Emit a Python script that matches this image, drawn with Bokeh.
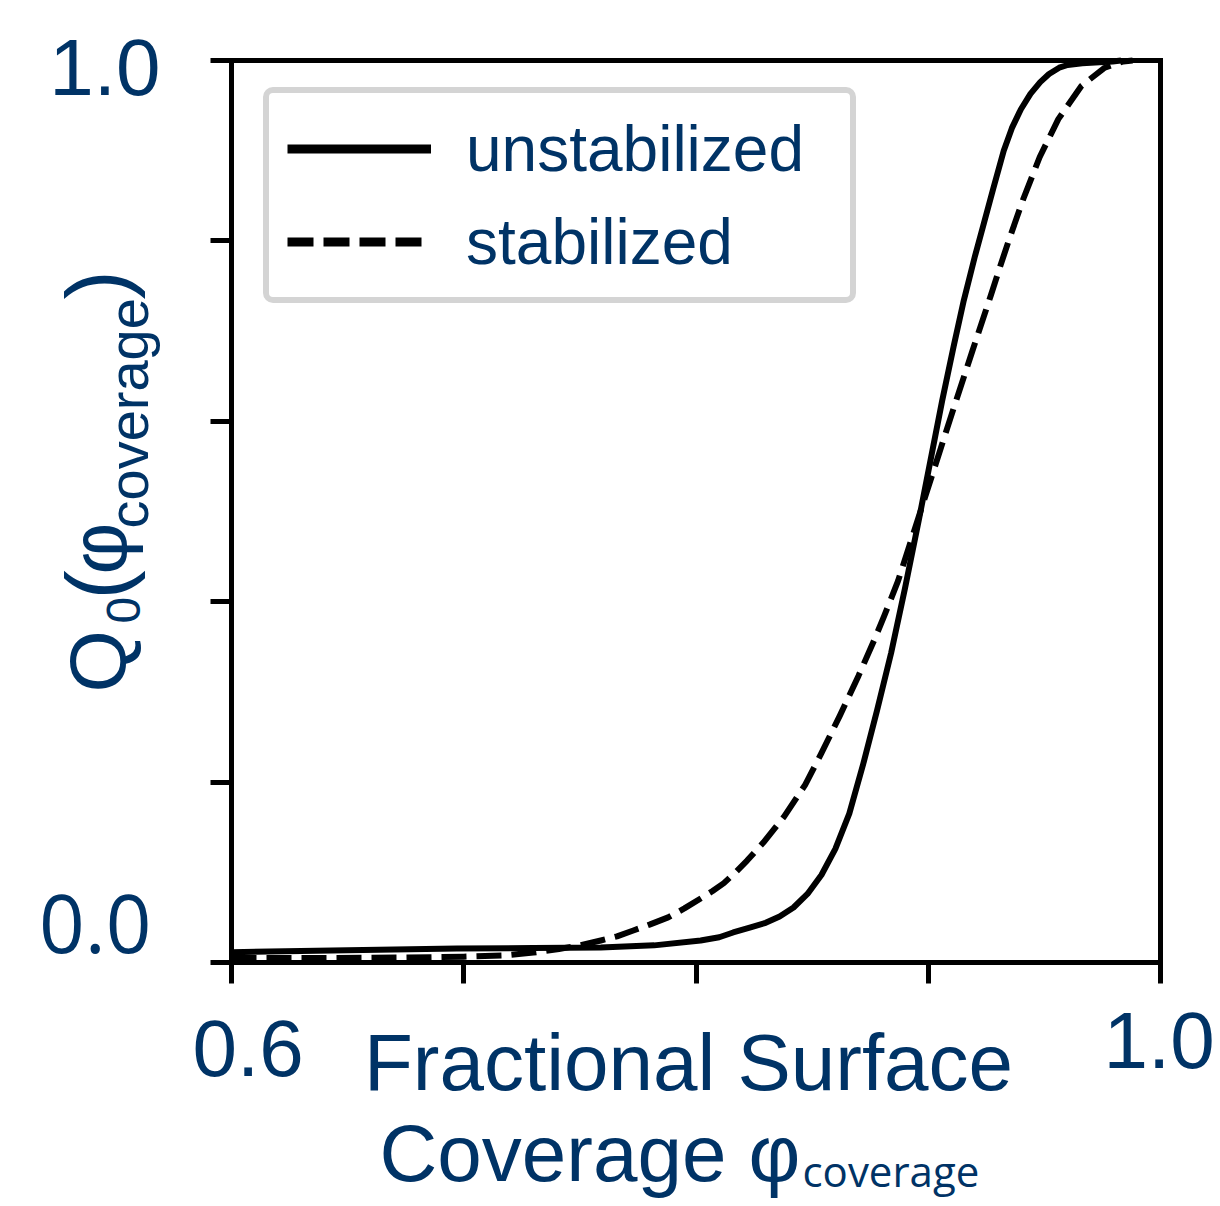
import numpy as np
from bokeh.plotting import figure
from bokeh.models import Range1d, FixedTicker, Label, Legend, LegendItem, LinearAxis
from bokeh.embed import file_html
from bokeh.resources import INLINE

# ---------------- data ----------------
SERIES_NAMES = ["unstabilized", "stabilized"]

UNSTAB_X = [0.600, 0.650, 0.697, 0.730, 0.759, 0.782, 0.802, 0.810, 0.816, 0.8235,
            0.830, 0.836, 0.842, 0.848, 0.854, 0.860, 0.866, 0.872, 0.878, 0.884,
            0.890, 0.8959, 0.906, 0.911, 0.9153, 0.920, 0.9239, 0.928, 0.9325, 0.936,
            0.9399, 0.944, 0.9482, 0.952, 0.9564, 0.960, 0.9663, 0.9794, 0.983]
UNSTAB_Q = [0.0114, 0.0135, 0.0155, 0.016, 0.0166, 0.019, 0.0244, 0.028, 0.0333, 0.039,
            0.044, 0.051, 0.061, 0.076, 0.097, 0.126, 0.165, 0.220, 0.280, 0.343,
            0.415, 0.490, 0.623, 0.684, 0.734, 0.782, 0.819, 0.858, 0.900, 0.925,
            0.946, 0.963, 0.976, 0.985, 0.992, 0.995, 0.997, 0.999, 1.0]

STAB_X = [0.600, 0.640, 0.675, 0.700, 0.718, 0.730, 0.741, 0.750, 0.759, 0.766,
          0.773, 0.780, 0.788, 0.795, 0.802, 0.807, 0.812, 0.817, 0.822, 0.829,
          0.838, 0.847, 0.854, 0.862, 0.870, 0.877, 0.881, 0.887, 0.892, 0.897,
          0.905, 0.911, 0.919, 0.927, 0.931, 0.935, 0.941, 0.948, 0.956, 0.966,
          0.976, 0.984, 0.988]
STAB_Q = [0.005, 0.005, 0.0055, 0.0065, 0.008, 0.011, 0.015, 0.019, 0.0244, 0.029,
          0.0355, 0.042, 0.050, 0.060, 0.071, 0.079, 0.088, 0.100, 0.113, 0.133,
          0.162, 0.197, 0.232, 0.274, 0.318, 0.359, 0.384, 0.423, 0.463, 0.503,
          0.567, 0.615, 0.678, 0.740, 0.772, 0.803, 0.847, 0.893, 0.935, 0.972,
          0.992, 0.999, 1.0]

X_TICKS = [0.6, 0.7, 0.8, 0.9, 1.0]
Y_TICKS = [0.0, 0.2, 0.4, 0.6, 0.8, 1.0]
X_TICK_TEXT = ["0.6", "1.0"]
Y_TICK_TEXT = ["0.0", "1.0"]
X_TITLE_LINE1 = "Fractional Surface"
X_TITLE_LINE2 = "Coverage φ"
X_TITLE_SUB = "coverage"
Y_TITLE_PARTS = ["Q", "0", "(", "φ", "coverage", ")"]

X_MIN, X_MAX = 0.6, 1.0
Y_MIN, Y_MAX = 0.0, 1.0

# ---------------- layout (pixels of the page) ----------------
W, H = 1220, 1206
BOX_L, BOX_R, BOX_T, BOX_B = 231, 1160, 60, 962     # where the axes box sits
XS = (X_MAX - X_MIN) / (BOX_R - BOX_L)              # data per pixel
YS = (Y_MAX - Y_MIN) / (BOX_B - BOX_T)
TEXT_COLOR = "#003366"
SANS = "Liberation Sans"
ROUND = "Open Sans"
MID = 0.357          # distance baseline -> text middle, in em


def dx(px):
    return X_MIN + (px - BOX_L) * XS


def dy(py):
    return Y_MIN + (BOX_B - py) * YS


p = figure(width=W, height=H,
           x_range=Range1d(dx(0), dx(W)), y_range=Range1d(dy(H), dy(0)),
           output_backend="svg", toolbar_location=None,
           x_axis_location=None, y_axis_location=None)
p.min_border = 0
p.grid.visible = False
p.background_fill_color = "white"
p.border_fill_color = "white"
p.outline_line_color = None


def make_axis(loc, bounds, ticks, tick_out):
    ax = LinearAxis(fixed_location=loc, bounds=bounds,
                    ticker=FixedTicker(ticks=ticks))
    ax.axis_line_color = "black"
    ax.axis_line_width = 5
    ax.axis_line_cap = "square"
    ax.major_tick_line_color = "black" if ticks else None
    ax.major_tick_line_width = 5
    ax.major_tick_out = tick_out
    ax.major_tick_in = 0
    ax.minor_tick_line_color = None
    ax.major_label_overrides = {t: "" for t in ticks}
    ax.major_label_text_font_size = "1px"
    return ax


p.add_layout(make_axis(Y_MIN, (X_MIN, X_MAX), X_TICKS, 21), "below")
p.add_layout(make_axis(X_MIN, (Y_MIN, Y_MAX), Y_TICKS, 21), "left")
p.add_layout(make_axis(Y_MAX, (X_MIN, X_MAX), [], 0), "above")
p.add_layout(make_axis(X_MAX, (Y_MIN, Y_MAX), [], 0), "right")

# curves
p.line(UNSTAB_X, UNSTAB_Q, line_color="black", line_width=6, line_join="round")
p.line(STAB_X, STAB_Q, line_color="black", line_width=6, line_dash="25 10",
       line_join="round")

# legend swatches (renderers that draw nothing in the plot itself)
nan = np.array([np.nan])
proxy_solid = p.line(x=nan, y=nan, line_color="black", line_width=9)
proxy_dash = p.line(x=nan, y=nan, line_color="black", line_width=9, line_dash="26 10")

legend = Legend(items=[LegendItem(label=SERIES_NAMES[0], renderers=[proxy_solid]),
                       LegendItem(label=SERIES_NAMES[1], renderers=[proxy_dash])],
                location=(BOX_L + 32, H - 303),
                label_text_font=SANS, label_text_font_size="64px",
                label_text_color=TEXT_COLOR,
                glyph_width=144, glyph_height=75, label_height=75, label_width=366,
                label_standoff=35, padding=18, spacing=18, margin=0,
                border_line_color="#d4d4d4", border_line_width=6,
                border_line_alpha=1.0,
                background_fill_color="white", background_fill_alpha=1.0)
try:
    legend.border_radius = 10
except Exception:
    pass
p.add_layout(legend)


def add_text(text, px, py, size, font=SANS, align="left", rotated=False):
    """px, py: start / baseline position of the text on the page"""
    if rotated:
        x, y, angle = px - MID * size, py, np.pi / 2
    else:
        x, y, angle = px, py - MID * size, 0.0
    p.add_layout(Label(x=dx(x), y=dy(y), text=text,
                       text_font=font, text_font_size=f"{size}px",
                       text_color=TEXT_COLOR, text_align=align,
                       text_baseline="middle", angle=angle))


# tick labels
add_text(Y_TICK_TEXT[1], 160, 96, 80, align="right")
add_text(Y_TICK_TEXT[0], 151, 952, 80, font=ROUND, align="right")
add_text(X_TICK_TEXT[0], 192, 1077, 80)
add_text(X_TICK_TEXT[1], 1103, 1069, 80)

# x title
add_text(X_TITLE_LINE1, 688, 1091, 80, align="center")
add_text(X_TITLE_LINE2, 379, 1182, 80)
add_text(X_TITLE_SUB, 802, 1185, 42, font=ROUND)

# y title (rotated, reading upward), pieces with subscripts
y_parts_layout = [  # (baseline x, start y, size)
    (127, 692, 80),
    (140, 623, 48),
    (127, 599, 88),
    (127, 574, 80),
    (148, 528, 56),
    (127, 299, 88),
]
for part, (bx, sy, sz) in zip(Y_TITLE_PARTS, y_parts_layout):
    add_text(part, bx, sy, sz, rotated=True)

open("out.html", "w").write(file_html(p, INLINE))
